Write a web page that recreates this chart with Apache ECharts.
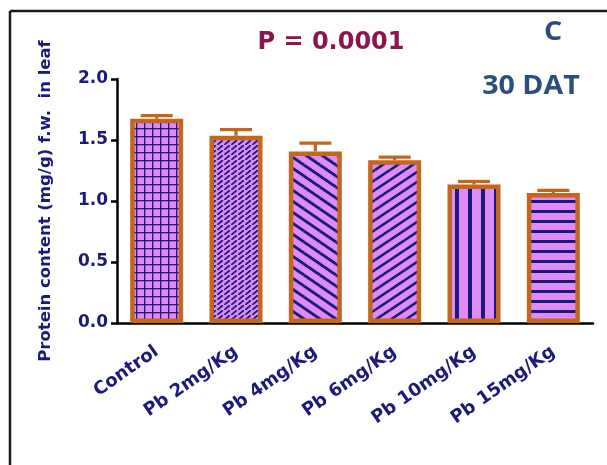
<!DOCTYPE html>
<html>
<head>
<meta charset="utf-8">
<script src="https://cdn.jsdelivr.net/npm/echarts@6/dist/echarts.min.js"></script>
<style>
html,body{margin:0;padding:0;background:#fff;}
#c{width:607px;height:465px;}
</style>
</head>
<body>
<div id="c"></div>
<script>
const categories = ['Control', 'Pb 2mg/Kg', 'Pb 4mg/Kg', 'Pb 6mg/Kg', 'Pb 10mg/Kg', 'Pb 15mg/Kg'];
const means = [1.675, 1.535, 1.405, 1.335, 1.135, 1.065];
const errors = [0.025, 0.05, 0.07, 0.025, 0.025, 0.022];
const yTickMin = 0, yTickMax = 2.0, yTickStep = 0.5;
const titleText = 'P = 0.0001';
const panelText = 'C';
const dayText = '30 DAT';
const yAxisName = 'Protein content (mg/g) f.w.  in leaf';

const NAVY = '#1b1a7c';
const FILL = '#dc8cf4';
const ORANGE = '#c4661c';

function tile(w, h, draw) {
  const c = document.createElement('canvas');
  c.width = w; c.height = h;
  const g = c.getContext('2d');
  g.fillStyle = FILL; g.fillRect(0, 0, w, h);
  g.strokeStyle = NAVY; g.fillStyle = NAVY;
  draw(g, w, h);
  return c;
}
function diag(g, w, h, lw, down) {
  g.lineWidth = lw;
  const shifts = [[0,0],[w,0],[-w,0],[0,h],[0,-h]];
  shifts.forEach(([dx, dy]) => {
    g.beginPath();
    if (down) { g.moveTo(dx, dy); g.lineTo(dx + w, dy + h); }
    else { g.moveTo(dx, dy + h); g.lineTo(dx + w, dy); }
    g.stroke();
  });
}
const patterns = [
  tile(8, 8, (g) => { g.fillRect(0, 0, 1.3, 8); g.fillRect(0, 0, 8, 1.3); }),
  tile(7, 5, (g) => { g.lineWidth = 1.8; g.beginPath(); g.moveTo(0.3, 4.8); g.lineTo(5.8, 0.2); g.stroke(); }),
  tile(16, 11, (g, w, h) => diag(g, w, h, 2.8, true)),
  tile(15, 10, (g, w, h) => diag(g, w, h, 2.6, false)),
  tile(13, 4, (g) => { g.fillRect(0, 0, 4, 4); }),
  tile(4, 10, (g) => { g.fillRect(0, 0, 4, 3); })
];

const chart = echarts.init(document.getElementById('c'));
const textFont = { fontFamily: 'DejaVu Sans', fontWeight: 'bold' };

chart.setOption({
  animation: false,
  grid: { left: 117, right: 14, top: 79, bottom: 142, containLabel: false },
  xAxis: {
    type: 'category',
    data: categories,
    axisLine: { lineStyle: { color: '#000', width: 2.5 } },
    axisTick: { alignWithLabel: true, length: 7, lineStyle: { color: '#000', width: 2.5 } },
    axisLabel: Object.assign({ rotate: 35, interval: 0, fontSize: 18, color: NAVY, margin: 27 }, textFont)
  },
  yAxis: {
    type: 'value',
    min: yTickMin, max: yTickMax, interval: yTickStep,
    axisLine: { show: true, lineStyle: { color: '#000', width: 2.5 } },
    axisTick: { show: true, length: 6, lineStyle: { color: '#000', width: 2.5 } },
    splitLine: { show: false },
    axisLabel: Object.assign({ formatter: v => v.toFixed(1), fontSize: 17, color: NAVY, margin: 9 }, textFont)
  },
  series: [
    {
      type: 'custom',
      z: 2,
      data: means.map((m, i) => [i, m, errors[i]]),
      renderItem: function (params, api) {
        const i = api.value(0), m = api.value(1), e = api.value(2);
        const p0 = api.coord([i, m]);
        const p1 = api.coord([i, m + e]);
        const hw = 16;
        const st = { stroke: ORANGE, lineWidth: 3.2 };
        return {
          type: 'group',
          children: [
            { type: 'line', shape: { x1: p0[0], y1: p0[1], x2: p1[0], y2: p1[1] }, style: st },
            { type: 'line', shape: { x1: p1[0] - hw, y1: p1[1], x2: p1[0] + hw, y2: p1[1] }, style: st }
          ]
        };
      }
    },
    {
      type: 'bar',
      z: 3,
      barWidth: 53,
      data: means.map((m, i) => ({
        value: m,
        itemStyle: { color: { image: patterns[i], repeat: 'repeat' }, borderColor: ORANGE, borderWidth: 4.5 }
      }))
    }
  ],
  graphic: [
    { type: 'line', shape: { x1: 10, y1: 11, x2: 607, y2: 11 }, style: { stroke: '#1a1a1a', lineWidth: 2.5 } },
    { type: 'line', shape: { x1: 10, y1: 11, x2: 10, y2: 465 }, style: { stroke: '#1a1a1a', lineWidth: 2.5 } },
    { type: 'text', x: 46, y: 201, rotation: Math.PI / 2,
      style: { text: yAxisName, fontSize: 16.5, fontWeight: 'bold', fontFamily: 'DejaVu Sans', fill: NAVY, align: 'center', verticalAlign: 'middle' } },
    { type: 'text', x: 331, y: 43,
      style: { text: titleText, fontSize: 24, fontWeight: 'bold', fontFamily: 'DejaVu Sans', fill: '#8c1550', align: 'center', verticalAlign: 'middle' } },
    { type: 'text', x: 553, y: 33, scaleX: 1.1,
      style: { text: panelText, fontSize: 26, fontWeight: 'bold', fontFamily: 'Open Sans', fill: '#2c4a7a', align: 'center', verticalAlign: 'middle' } },
    { type: 'text', x: 531, y: 87, scaleX: 1.1,
      style: { text: dayText, fontSize: 26, fontWeight: 'bold', fontFamily: 'Open Sans', fill: '#2c4e7e', align: 'center', verticalAlign: 'middle' } }
  ]
});
</script>
</body>
</html>
